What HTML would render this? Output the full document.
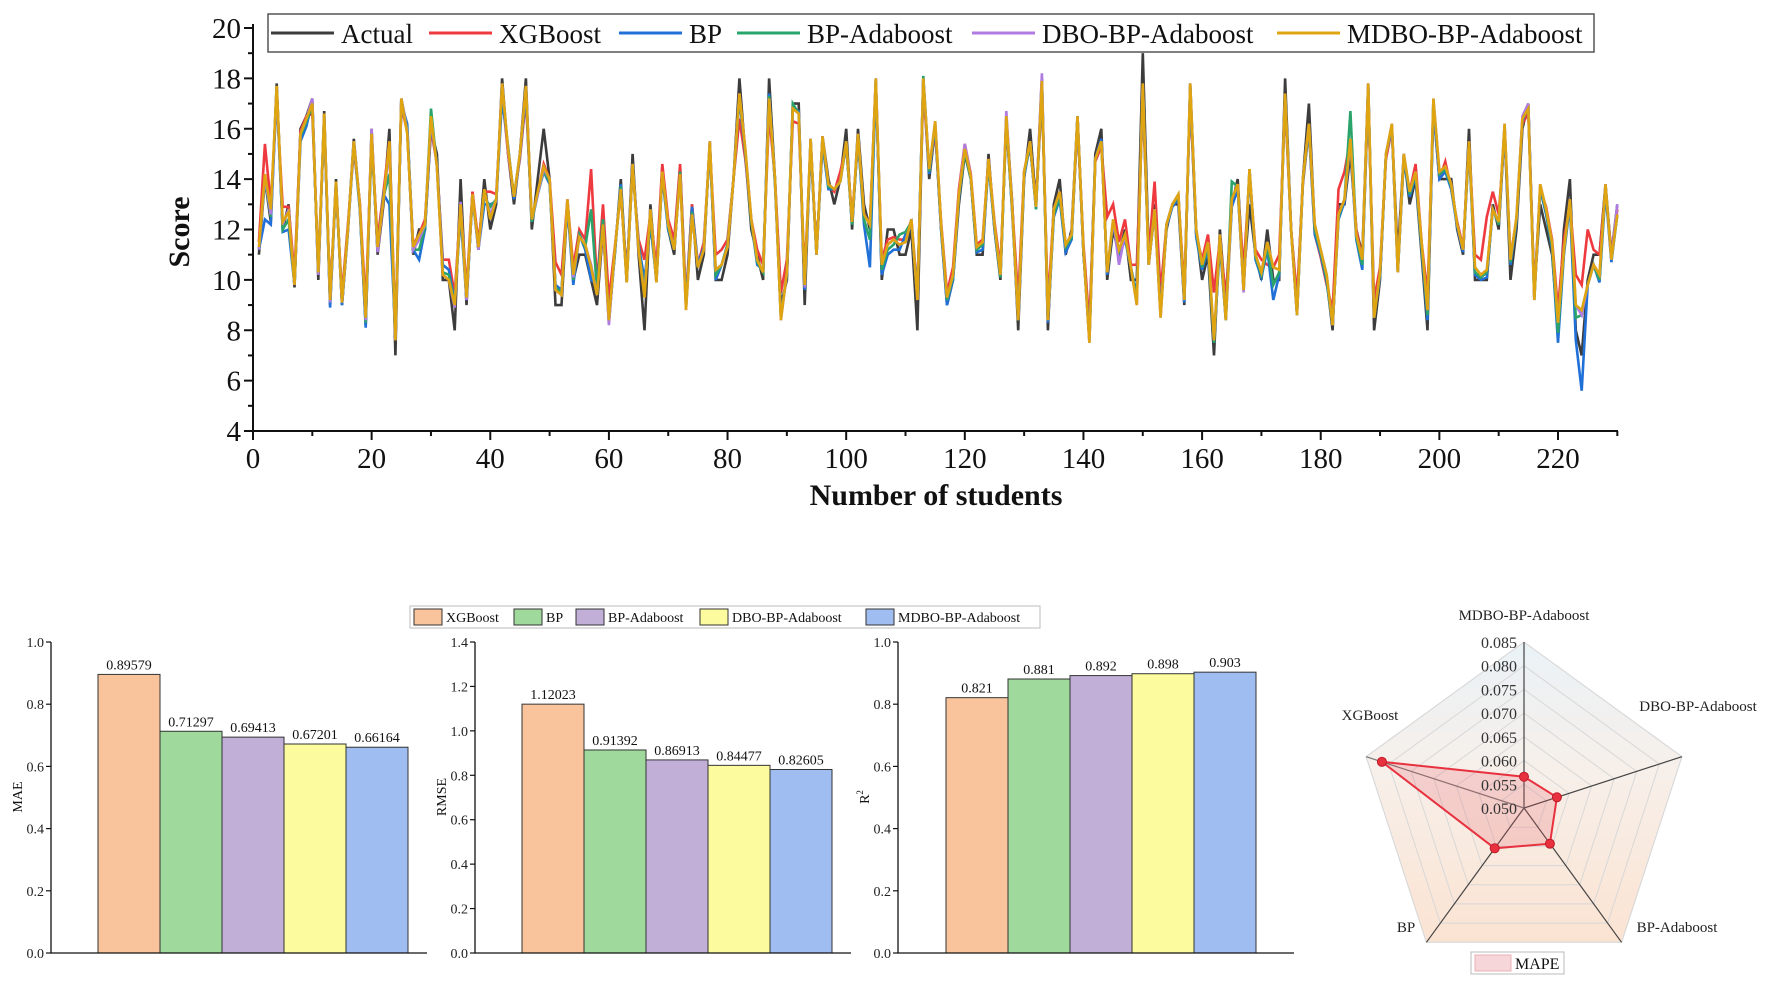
<!DOCTYPE html>
<html><head><meta charset="utf-8">
<style>
html,body{margin:0;padding:0;background:#fff;}
svg{display:block;font-family:"Liberation Serif",serif;}
</style></head>
<body>
<svg id="fig" width="1772" height="982" viewBox="0 0 1772 982" xmlns="http://www.w3.org/2000/svg">
<defs>
<linearGradient id="radarGrad" x1="0" y1="0" x2="0" y2="1">
<stop offset="0" stop-color="#eaf2f7"/><stop offset="0.45" stop-color="#f7efe9"/><stop offset="1" stop-color="#fbe3d2"/>
</linearGradient>
</defs>
<g id="line-chart"></g>
<g id="bars"></g>
<g id="radar"></g>
</svg>
<script>
// ---------- line chart data ----------
const seriesNames = ['Actual','XGBoost','BP','BP-Adaboost','DBO-BP-Adaboost','MDBO-BP-Adaboost'];
const seriesColors = ['#3c3c3c','#ee3a3f','#2070d8','#2aa46a','#b07be0','#dfa511'];
const xTicks = [0,20,40,60,80,100,120,140,160,180,200,220];
const yTicks = [4,6,8,10,12,14,16,18,20];
const actual = [11,14,12.3,17.8,12,13,9.7,16,16.5,17.2, 10,16.7,9,14,9,12,15.6,13,8.2,16, 11,13,16,7,17.2,16,11,12,12,16, 15,10,10,8,14,9,13.5,11.2,14,12, 13,18,15,13,15,18,12,14,16,14, 9,9,13,10,11,11,10,9,12,8.5, 11,14,10,15,11,8,13,10,14.5,12, 11,14.5,9,13,10,11,15.5,10,10,11, 14,18,15,12,11,10,18,14,9,10, 17,17,9,15.6,11,15.7,14,13,14,16, 12,16,13,12,18,10,12,12,11,11, 12,8,18,14,16,12,9,10,13,15, 14,11,11,15,12,10,16.5,13,8,14, 16,13,18,8,13,14,11,12,16.5,11, 8,15,16,10,12,11,12,10,10,19, 11,13,9,12,13,13,9,17.8,12,10, 11,7,12,9,13,14,10,13,11,10, 12,10,10,18,12,9,14,17,12,11, 10,8,13,13,15,12,11,17.8,8,10, 15,16,11,15,13,14,11,8,17,14, 14,14,12,11,16,10,10,10,13,12, 16,10,12,16,17,9.5,13,12,11,8, 12,14,8,7,10,11,11,13.8,11,13];
const xgb = [11.5,15.4,13,17.2,12.9,12.9,10.2,15.9,16.5,16.6, 10.6,16.2,9.5,13.6,9.4,12.2,15.2,13.1,9,15.6, 11.6,13.5,15.5,8,16.9,15.9,11.4,11.8,12.4,16, 14.6,10.8,10.8,9.4,13,9.6,13.5,11.5,13.5,13.5, 13.4,17.4,15,13.3,14.8,17.2,12.4,13.4,14.6,14, 10.7,10.2,13.2,10.5,12,11.6,14.4,9.8,13,9.2, 11.3,13.5,10.2,14.4,11.6,10.8,12.6,10.5,14.6,12.4, 11.6,14.6,9.2,13,10.6,11.5,15.3,11,11.2,11.6, 14,16.4,14.8,12.4,11.2,10.6,16.6,14,9.5,10.8, 16.3,16.2,10.2,15.3,11.2,15.4,13.7,13.5,14.3,15.3, 12.5,15.5,12.6,12.2,17.6,10.8,11.6,11.7,11.6,11.6, 12.4,9.5,17.6,14.3,15.9,12.3,9.5,10.5,13.6,15.4, 14.2,11.4,11.6,14.8,12.3,10.5,16.1,12.9,9.2,14.3, 15.3,13,17.4,9,12.8,13.5,11.4,11.8,16.2,11.4, 8.2,14.7,15.3,12.5,13,11.5,12.4,10.6,10.6,17, 11,13.9,9.5,12.2,13,13.3,9.6,17.3,11.8,10.8, 11.8,9.5,11.6,9.3,13,13.6,10.4,14.2,11.2,10.8, 10.6,10.5,11,17,12,9.3,13.8,16,11.8,10.9, 9.8,8.8,13.6,14.3,15.6,12,10.8,17.2,9.2,10.5, 14.8,16,10.5,14.8,13.5,14.6,11.5,9.4,16.8,14, 14.7,13.6,12.3,11.3,15.4,11,10.8,12.5,13.5,12.6, 15.8,10.9,12.4,16.2,16.6,9.6,13.6,12.9,11.6,8.8, 11.6,13,10.2,9.8,12,11.2,11,13.6,11,12.8];
const bp = [11.2,12.4,12.2,17.5,11.9,12,9.8,15.5,16.1,17.1, 10.2,16.4,8.9,13.8,9,11.9,15.4,12.8,8.1,15.6, 11.2,13.4,13,7.8,17,16.2,11.2,10.8,12,16.2, 14.6,10.6,10.4,9.1,12.6,9.2,13.3,11.2,13,13, 13.1,17.2,15.3,13.2,14.9,17.4,12.3,13.4,14.3,13.8, 9.8,9.6,13,9.8,11.8,11.2,10,9.8,12.4,8.3, 11.1,13.8,10,14.6,11.4,10,12.2,10,14.1,12, 11.2,14.2,9,12.9,10.6,11.3,15.3,10,10.6,11.4, 14,17.2,15,12.3,10.6,10.4,17.4,13.8,8.6,10.2, 16.8,16.7,9.6,15.3,11,15.4,13.6,13.6,13.9,15.4, 12.2,15.6,12.2,10.5,17.8,10.2,11,11.2,11.2,11.8, 12.2,9.4,18,14.2,16.1,12,9,10,13.2,15.1, 14,11.1,11.2,14.6,12,10.1,16.4,12.6,8.4,14.1, 15.4,12.8,18,8.3,12.5,13.2,11.1,11.6,16.4,11.1, 7.6,14.8,15.6,10.2,12.3,11,11.6,10.5,9.4,17.6, 10.6,12.7,8.7,12.1,12.9,13.2,9.1,17.6,11.7,10.4, 11.2,7.5,11.4,8.4,12.9,13.6,9.6,14.2,10.8,10.1, 11.2,9.2,10.2,17.4,12,8.6,13.9,16,11.8,11, 9.9,8.2,12.4,13.1,15.4,11.6,10.4,17.6,8.6,10.1, 15,16,10.3,14.8,13.3,14.1,11.2,8.4,16.8,14, 14.3,13.6,12.1,11.1,15.3,10.2,10,10.1,12.8,12.2, 16,10.6,12.3,16.3,16.9,9.3,13.6,12.6,11.2,7.5, 11,13,7.6,5.6,9.8,10.6,9.9,13.5,10.7,12.6];
const bpAda = [11.2,14,12.5,17.6,12,12.4,9.8,15.7,16.3,16.9, 10.3,16.5,9.1,13.8,9.1,12,15.5,12.9,8.3,15.7, 11.2,13.3,14.2,7.7,17.1,16,11.2,11.2,12.1,16.8, 14.5,10.3,10.2,9,12.8,9.3,13.3,11.3,13.3,12.9, 13.2,17.6,15.2,13.3,15,17.6,12.3,13.4,14.3,13.9, 9.7,9.5,13.1,10,11.8,11.3,12.8,9.6,12.4,8.3, 11.1,13.7,9.9,14.5,11.3,9.6,12.5,9.9,14.2,12.1, 11.2,14.3,8.9,12.7,10.5,11.2,15.4,10.2,10.6,11.4, 14,17.3,15.1,12.3,10.7,10.3,17.3,13.9,8.5,10.3, 17,16.6,9.7,15.5,11,15.6,13.7,13.6,13.9,15.4, 12.2,15.7,12.4,11.6,17.9,10.4,11.2,11.4,11.8,11.9, 12.3,9.3,18.1,14.3,16.2,12.1,9.2,10.1,13.3,15.1, 14,11.2,11.4,14.7,12.1,10.1,16.4,12.7,8.4,14.2, 15.4,12.8,17.8,8.4,12.6,13.3,11.3,11.7,16.5,11.1, 7.6,14.8,15.5,10.3,12.3,11.1,11.7,10.5,9.2,17.7, 10.6,12.8,8.6,12.2,13,13.3,9.2,17.7,11.9,10.5, 11.3,7.5,11.6,8.4,13.9,13.7,9.6,14.4,10.9,10.2, 11.3,9.8,10.3,17.3,12,8.6,13.9,16.1,12,11.1, 10,8.2,12.5,13.2,16.7,11.7,10.6,17.7,8.5,10.2, 15,16.1,10.3,14.9,13.4,14.2,11.3,8.6,17.1,14.2, 14.4,13.7,12.2,11.2,15.4,10.3,10.1,10.3,12.8,12.2, 16.1,10.7,12.4,16.4,16.8,9.2,13.7,12.7,11.3,7.9, 11.1,13.1,8.5,8.6,9.8,10.6,10,13.7,10.8,12.6];
const dboAda = [11.2,14.1,12.6,17.6,12.2,12.8,9.8,15.8,16.4,17.2, 10.2,16.6,9.1,13.9,9.1,12,15.5,13,8.4,16, 11.1,13.2,15.2,7.6,17.2,15.9,11.2,11.6,12.2,16.4, 14.5,10.2,10,8.9,13.1,9.2,13.4,11.2,13.5,12.6, 13.2,17.8,15.1,13.3,15,17.7,12.4,13.4,14.4,14, 9.6,9.4,13.2,10.1,11.7,11.4,10.6,9.4,12.1,8.2, 11.2,13.6,9.9,14.6,11.2,9.4,12.8,9.9,14.3,12.2, 11.2,14.2,8.8,12.6,10.5,11.2,15.5,10.4,10.6,11.3, 14,17.4,15.2,12.4,10.8,10.3,17.2,14,8.4,10.3, 16.8,16.6,9.7,15.6,11,15.7,13.8,13.6,13.9,15.5, 12.3,15.8,12.6,12.2,18,10.6,11.4,11.6,11.4,11.5, 12.4,9.2,18,14.4,16.3,12.2,9.3,10.2,13.4,15.4, 14.1,11.3,11.5,14.8,12.2,10.2,16.7,12.8,8.4,14.3, 15.5,12.9,18.2,8.4,12.8,13.5,11.4,11.8,16.5,11.2, 7.5,14.8,15.5,10.3,12.4,10.6,11.8,10.5,9,17.8, 10.6,12.8,8.5,12.2,13,13.4,9.2,17.8,12,10.6, 11.5,7.6,11.8,8.4,13.2,13.8,9.5,14.4,11,10.3, 11.5,10.5,10.4,17.4,12,8.6,14,16.2,12.2,11.2, 10.2,8.2,12.6,13.2,15.6,11.8,10.8,17.8,8.5,10.3, 15,16.2,10.3,15,13.5,14.3,11.5,8.8,17.2,14.3, 14.5,13.8,12.2,11.2,15.5,10.5,10.2,10.4,12.8,12.3, 16.2,10.8,12.5,16.5,17,9.2,13.8,12.8,11.5,8.3, 11.2,13.2,9,8.6,9.8,10.6,10.2,13.8,10.8,13];
const mdboAda = [11.3,14.2,12.8,17.7,12.3,12.7,9.8,15.8,16.4,17, 10.3,16.6,9.2,13.9,9.1,12,15.5,13,8.5,15.8, 11.3,13.2,15.5,7.6,17.2,15.8,11.3,11.8,12.2,16.5, 14.5,10.2,10,9,13,9.3,13.4,11.3,13.6,12.4, 13.2,17.8,15.2,13.3,15,17.7,12.4,13.5,14.5,14, 9.6,9.4,13.2,10.2,11.7,11.4,10.5,9.4,12.2,8.4, 11.2,13.6,9.9,14.6,11.2,9.3,12.8,9.9,14.3,12.2, 11.2,14.2,8.8,12.6,10.5,11.2,15.5,10.4,10.6,11.3, 14,17.4,15.2,12.4,10.8,10.3,17.2,14,8.4,10.3, 16.8,16.6,9.8,15.6,11,15.7,13.8,13.6,13.9,15.5, 12.3,15.8,12.6,12.2,18,10.6,11.4,11.6,11.4,11.5, 12.4,9.2,18,14.4,16.3,12.2,9.3,10.2,13.4,15.2, 14.1,11.3,11.5,14.8,12.2,10.2,16.5,12.8,8.4,14.3, 15.5,12.9,17.9,8.4,12.8,13.5,11.4,11.8,16.5,11.2, 7.5,14.8,15.5,10.3,12.4,11.2,11.8,10.5,9,17.8, 10.6,12.8,8.5,12.2,13,13.4,9.2,17.8,12,10.6, 11.5,7.6,11.8,8.4,13.2,13.8,9.6,14.4,11,10.3, 11.5,10.5,10.4,17.4,12,8.6,14,16.2,12.2,11.2, 10.2,8.2,12.6,13.2,15.6,11.8,10.8,17.8,8.5,10.3, 15,16.2,10.3,15,13.5,14.3,11.5,8.8,17.2,14.3, 14.5,13.8,12.2,11.2,15.5,10.5,10.2,10.4,12.8,12.3, 16.2,10.8,12.5,16.4,16.8,9.2,13.8,12.8,11.5,8.3, 11.2,13.2,9,8.8,9.8,10.6,10.2,13.8,10.8,12.6];
const allSeries = [actual,xgb,bp,bpAda,dboAda,mdboAda];

// ---------- bar chart data ----------
const models = ['XGBoost','BP','BP-Adaboost','DBO-BP-Adaboost','MDBO-BP-Adaboost'];
const barColors = ['#f9c49c','#9fd99b','#c1afd8','#fcfc9e','#a0bdf2'];
const maeValues = [0.89579,0.71297,0.69413,0.67201,0.66164];
const maeLabels = ['0.89579','0.71297','0.69413','0.67201','0.66164'];
const rmseValues = [1.12023,0.91392,0.86913,0.84477,0.82605];
const rmseLabels = ['1.12023','0.91392','0.86913','0.84477','0.82605'];
const r2Values = [0.821,0.881,0.892,0.898,0.903];
const r2Labels = ['0.821','0.881','0.892','0.898','0.903'];
const maeTicks = [0.0,0.2,0.4,0.6,0.8,1.0];
const rmseTicks = [0.0,0.2,0.4,0.6,0.8,1.0,1.2,1.4];
const r2Ticks = [0.0,0.2,0.4,0.6,0.8,1.0];

// ---------- radar data ----------
const radarCats = ['MDBO-BP-Adaboost','DBO-BP-Adaboost','BP-Adaboost','BP','XGBoost'];
const mapeValues = [0.0566,0.0573,0.0593,0.0605,0.0815];
const radarTicks = [0.050,0.055,0.060,0.065,0.070,0.075,0.080,0.085];

const NS='http://www.w3.org/2000/svg';
function mk(tag, attrs, parent, text){
  const el=document.createElementNS(NS,tag);
  for(const k in attrs) el.setAttribute(k,attrs[k]);
  if(text!==undefined) el.textContent=text;
  parent.appendChild(el);
  return el;
}

// ===== Line chart =====
(function(){
  const g=document.getElementById('line-chart');
  const L=253,R=1618,T=28,B=431;
  const xs=v=>L+(v-0)*(1558-253)/220;
  const ys=v=>B-(v-4)*(B-T)/16;
  // series
  allSeries.forEach((arr,si)=>{
    const pts=arr.map((v,i)=>xs(i+1).toFixed(1)+','+ys(v).toFixed(1)).join(' ');
    const pl=mk('polyline',{points:pts,fill:'none',stroke:seriesColors[si],'stroke-width':2.6,'stroke-linejoin':'miter'},g);
    
    
  });
  // axes
  let ax=mk('path',{d:`M${L},${T-4} L${L},${B} L${R},${B}`,fill:'none',stroke:'#111','stroke-width':2},g);
  
  
  for(let v=4;v<=20;v+=1){
    const major=(v%2===0);
    const t=mk('line',{x1:L-(major?9:5),x2:L,y1:ys(v),y2:ys(v),stroke:'#111','stroke-width':2},g);
    
    
  }
  yTicks.forEach(v=>{
    const t=mk('text',{x:L-12,y:ys(v)+10,'text-anchor':'end','font-size':29,fill:'#111'},g,String(v));
    
    
  });
  for(let v=0;v<=230;v+=10){
    const major=(v%20===0);
    const t=mk('line',{x1:xs(v),x2:xs(v),y1:B,y2:B+(major?9:5),stroke:'#111','stroke-width':2},g);
    
    
  }
  xTicks.forEach(v=>{
    const t=mk('text',{x:xs(v),y:B+37,'text-anchor':'middle','font-size':29,fill:'#111'},g,String(v));
    
    
  });
  let xt=mk('text',{x:936,y:505,'text-anchor':'middle','font-size':30,'font-weight':'bold',fill:'#111'},g,'Number of students');
  
  
  let yt=mk('text',{x:0,y:0,'text-anchor':'middle','font-size':30,'font-weight':'bold',fill:'#111',transform:'translate(189,232) rotate(-90)'},g,'Score');
  
  
  // legend
  const lg=mk('g',{},g);
  
  
  let box=mk('rect',{x:268,y:14,width:1326,height:38,fill:'#fff',stroke:'#555','stroke-width':1.5},lg);
  
  
  const lineX=[271,429,619,737,972,1277];
  const textX=[341,499,689,807,1042,1347];
  seriesNames.forEach((n,i)=>{
    const ln=mk('line',{x1:lineX[i],x2:lineX[i]+63,y1:33,y2:33,stroke:seriesColors[i],'stroke-width':3},lg);
    
    
    const tx=mk('text',{x:textX[i],y:43,'font-size':27,fill:'#111'},lg,n);
    
    
  });
})();

// ===== Bar charts =====
(function(){
  const g=document.getElementById('bars');
  const B=953, T=642;
  function chart(name,L,barL,axR,maxV,ticks,vals,labels,title){
    const cg=mk('g',{},g);
    
    
    const ys=v=>B-v/maxV*(B-T);
    const bw=62;
    vals.forEach((v,i)=>{
      const r=mk('rect',{x:barL+i*bw,y:ys(v),width:bw,height:B-ys(v),fill:barColors[i],stroke:'#333','stroke-width':1},cg);
      
      
      const t=mk('text',{x:barL+i*bw+bw/2,y:ys(v)-5,'text-anchor':'middle','font-size':14,fill:'#111'},cg,labels[i]);
      
      
    });
    const ax=mk('path',{d:`M${L},${T} L${L},${B} L${axR},${B}`,fill:'none',stroke:'#111','stroke-width':1.3},cg);
    
    
    ticks.forEach(v=>{
      const tk=mk('line',{x1:L-5,x2:L,y1:ys(v),y2:ys(v),stroke:'#111','stroke-width':1.2},cg);
      
      
      const tl=mk('text',{x:L-7,y:ys(v)+5,'text-anchor':'end','font-size':14,fill:'#222'},cg,v.toFixed(1));
      
      
    });
    const yt=mk('text',{x:0,y:0,'text-anchor':'middle','font-size':14,fill:'#111',transform:`translate(${L-29},797) rotate(-90)`},cg,title);
    
    
    return yt;
  }
  chart('mae',51,98,427,1.0,maeTicks,maeValues,maeLabels,'MAE');
  chart('rmse',475,522,851,1.4,rmseTicks,rmseValues,rmseLabels,'RMSE');
  const r2t=chart('r2',898,946,1294,1.0,r2Ticks,r2Values,r2Labels,'R');
  const sup=mk('tspan',{'font-size':9,dy:-6},r2t,'2');
  
  
  // legend
  const lg=mk('g',{},g);
  
  
  const box=mk('rect',{x:410,y:606,width:630,height:22,fill:'#fff',stroke:'#bbb','stroke-width':1},lg);
  
  
  const sx=[414,514,576,700,866];
  models.forEach((m,i)=>{
    const s=mk('rect',{x:sx[i],y:609,width:28,height:16,fill:barColors[i],stroke:'#333','stroke-width':1},lg);
    
    
    const t=mk('text',{x:sx[i]+32,y:622,'font-size':14,fill:'#111'},lg,m);
    
    
  });
})();

// ===== Radar =====
(function(){
  const g=document.getElementById('radar');
  const cx=1524, cy=808, R=166;
  const ang=i=>(-90+72*i)*Math.PI/180;
  const rad=v=>(v-0.05)/0.035*R;
  const pt=(i,r)=>[cx+r*Math.cos(ang(i)), cy+r*Math.sin(ang(i))];
  const poly=r=>[0,1,2,3,4].map(i=>pt(i,r).map(n=>n.toFixed(1)).join(',')).join(' ');
  const bg=mk('polygon',{points:poly(R),fill:'url(#radarGrad)',stroke:'#ddd','stroke-width':1},g);
  
  
  radarTicks.slice(1).forEach(v=>{
    const p=mk('polygon',{points:poly(rad(v)),fill:'none',stroke:'#d8d8d8','stroke-width':1},g);
    
    
  });
  radarCats.forEach((c,i)=>{
    const [x,y]=pt(i,R);
    const l=mk('line',{x1:cx,y1:cy,x2:x,y2:y,stroke:i===4?'#777':'#444','stroke-width':1.2},g);
    
    
  });
  const dp=mapeValues.map((v,i)=>pt(i,rad(v)).map(n=>n.toFixed(1)).join(',')).join(' ');
  const area=mk('polygon',{points:dp,fill:'rgba(232,90,100,0.22)',stroke:'#e8313f','stroke-width':2},g);
  
  
  mapeValues.forEach((v,i)=>{
    const [x,y]=pt(i,rad(v));
    const c=mk('circle',{cx:x,cy:y,r:4.5,fill:'#e8313f',stroke:'#c01a28','stroke-width':1},g);
    
    
  });
  radarTicks.forEach(v=>{
    const t=mk('text',{x:cx-7,y:cy-rad(v)+6,'text-anchor':'end','font-size':16,fill:'#333'},g,v.toFixed(3));
    
    
  });
  const lp=[[1524,620,'middle'],[1698,711,'middle'],[1677,932,'middle'],[1406,932,'middle'],[1370,720,'middle']];
  radarCats.forEach((c,i)=>{
    const t=mk('text',{x:lp[i][0],y:lp[i][1],'text-anchor':lp[i][2],'font-size':15,fill:'#222'},g,c);
    
    
  });
  const lb=mk('rect',{x:1471,y:952,width:93,height:22,fill:'#fff',stroke:'#bbb','stroke-width':1},g);
  
  
  const ls=mk('rect',{x:1475,y:955,width:36,height:16,fill:'#f7d6d9',stroke:'#e8b0b5','stroke-width':1},g);
  
  
  const lt=mk('text',{x:1515,y:969,'font-size':16,fill:'#111'},g,'MAPE');
  
  
})();
</script>
</body></html>
